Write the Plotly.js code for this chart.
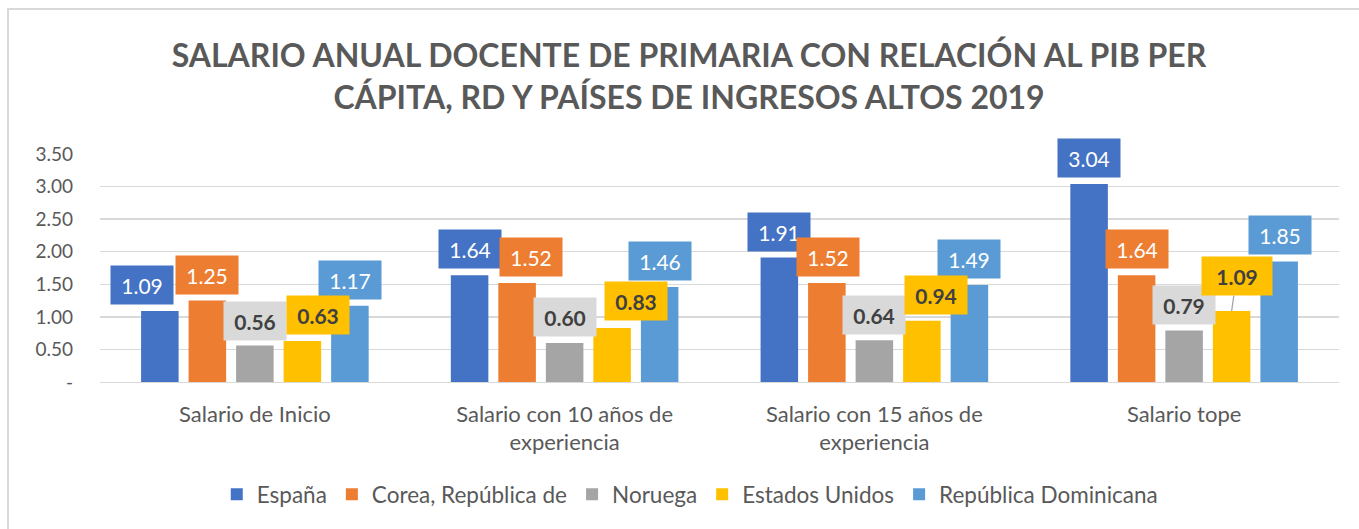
<!DOCTYPE html>
<html><head><meta charset="utf-8">
<script src="https://cdn.plot.ly/plotly-3.0.1.min.js"></script>
<style>
html,body{margin:0;padding:0;overflow:hidden;background:#fff;}
#frame{position:absolute;left:7px;top:8px;width:1400px;height:600px;border:2px solid #d9d9d9;box-sizing:border-box;}
#chart{position:absolute;left:0;top:0;width:1359px;height:529px;}
</style></head><body>
<div id="frame"></div><div id="chart"></div>
<script>
// ---- data ----
const categories = ['Salario de Inicio', 'Salario con 10 años de<br>experiencia', 'Salario con 15 años de<br>experiencia', 'Salario tope'];
const seriesNames = ['España', 'Corea, República de', 'Noruega', 'Estados Unidos', 'República Dominicana'];
const espana  = [1.09, 1.64, 1.91, 3.04];
const corea   = [1.25, 1.52, 1.52, 1.64];
const noruega = [0.56, 0.60, 0.64, 0.79];
const eeuu    = [0.63, 0.83, 0.94, 1.09];
const rd      = [1.17, 1.46, 1.49, 1.85];
const yTickVals = [0, 0.5, 1, 1.5, 2, 2.5, 3, 3.5];
const yTickText = ['-', '0.50', '1.00', '1.50', '2.00', '2.50', '3.00', '3.50'];

// ---- style ----
const allValues = [espana, corea, noruega, eeuu, rd];
const barColors = ['#4472C4', '#ED7D31', '#A5A5A5', '#FFC000', '#5B9BD5'];
const boxColors = ['#4472C4', '#ED7D31', '#D9D9D9', '#FFC000', '#5B9BD5'];
const labelFontColors = ['#FFFFFF', '#FFFFFF', '#404040', '#404040', '#FFFFFF'];
const labelBold = [false, false, true, true, false];
const drawOrder = [0, 1, 2, 4, 3]; // Estados Unidos labels drawn on top
// manual label offsets (px) relative to default position, per series per category
const labelDx = [[-18, 0, 0, 0], [0, 14, 1, 0], [0, 0, 0, 0], [16, 24, 14, 1], [0, 0, 0, 1]];
const labelDy = [[26, 26, 26, 26], [26, 26, 26, 26], [25, 26, 25, 26], [26, 27, 26, 35], [26, 26, 26, 26]];
const FONT = 'Lato, "Open Sans", sans-serif';
const bargap = 0.233, bargroupgap = 0.21;
const nS = seriesNames.length;

const traces = allValues.map((vals, i) => ({
  type: 'bar', name: seriesNames[i], x: categories, y: vals,
  marker: {color: barColors[i], line: {width: 0}},
  hoverinfo: 'skip'
}));

const slot = (1 - bargap) / nS;
const annotations = [];
drawOrder.forEach(i => {
  allValues[i].forEach((v, j) => {
    const isLeader = (i === 3 && j === 3);
    const txt = labelBold[i] ? '<b>' + v.toFixed(2) + '</b>' : v.toFixed(2);
    const a = {
      xref: 'x', yref: 'y', x: j + (i - (nS - 1) / 2) * slot, y: v,
      text: txt, font: {family: FONT, size: 21, color: labelFontColors[i]},
      bgcolor: boxColors[i], width: isLeader ? 70 : 62, height: 38, borderpad: 0,
      align: 'center', valign: 'middle'
    };
    if (isLeader) {
      Object.assign(a, {showarrow: true, arrowhead: 0, arrowwidth: 1.3, arrowcolor: '#A5A5A5',
        ax: labelDx[i][j] + 4, ay: -labelDy[i][j], standoff: 0});
    } else {
      Object.assign(a, {showarrow: false, xshift: labelDx[i][j], yshift: labelDy[i][j], yanchor: 'middle'});
    }
    annotations.push(a);
  });
});

const layout = {
  width: 1359, height: 529,
  margin: {l: 100, r: 20, t: 153.5, b: 146.5},
  paper_bgcolor: 'rgba(0,0,0,0)', plot_bgcolor: 'rgba(0,0,0,0)',
  font: {family: FONT, color: '#595959'},
  title: {
    text: '<b>SALARIO ANUAL DOCENTE DE PRIMARIA CON RELACIÓN AL PIB PER<br>CÁPITA, RD Y PAÍSES DE INGRESOS ALTOS 2019</b>',
    font: {family: FONT, size: 32, color: '#595959'},
    xref: 'container', x: 0.507, xanchor: 'center',
    yref: 'container', y: 1 - 67 / 529, yanchor: 'middle'
  },
  barmode: 'group', bargap: bargap, bargroupgap: bargroupgap,
  xaxis: {
    type: 'category', showgrid: false, showline: true, linecolor: '#D9D9D9', linewidth: 1.3,
    tickfont: {family: FONT, size: 22, color: '#595959'}, ticks: '', ticklabelstandoff: 12, fixedrange: true
  },
  yaxis: {
    range: [0, 3.5], tickvals: yTickVals, ticktext: yTickText,
    showgrid: true, gridcolor: '#D9D9D9', gridwidth: 1.3, zeroline: false, showline: false,
    tickfont: {family: FONT, size: 19, color: '#595959'}, ticks: '', ticklabelstandoff: 26, fixedrange: true
  },
  showlegend: true,
  legend: {
    orientation: 'h', xref: 'paper', x: 0.476, xanchor: 'center',
    y: -0.494, yanchor: 'middle', font: {family: FONT, size: 22.5, color: '#595959'},
    itemwidth: 30, itemclick: false, itemdoubleclick: false
  },
  annotations: annotations
};

Plotly.newPlot('chart', traces, layout, {displayModeBar: false, staticPlot: true});
</script>
</body></html>
